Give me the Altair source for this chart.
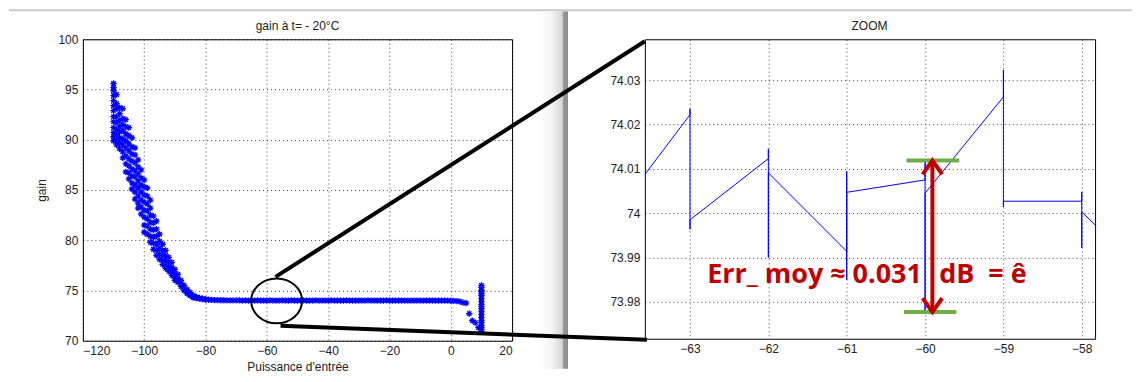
import altair as alt
import pandas as pd

# ---------------- left panel: gain vs input power (samples per power step)
left_power = [-110, -109, -108, -107, -106, -105, -104, -103, -102, -101, -100,
              -99, -98, -97, -96, -95, -94, -93, -92, -91, -90,
              -89, -88, -87, -86, -85, -84, -83, -82, -81, -80,
              -79, -78, -77, -76, -75, -74, -73, -72, -71, -70,
              -69, -68, -67, -66, -65, -64, -63, -62, -61, -60,
              -59, -58, -57, -56, -55, -54, -53, -52, -51, -50,
              -49, -48, -47, -46, -45, -44, -43, -42, -41, -40,
              -39, -38, -37, -36, -35, -34, -33, -32, -31, -30,
              -29, -28, -27, -26, -25, -24, -23, -22, -21, -20,
              -19, -18, -17, -16, -15, -14, -13, -12, -11, -10,
              -9, -8, -7, -6, -5, -4, -3, -2, -1, 0,
              1, 2, 3, 4, 5, 6, 7, 8, 9, 10]
left_gain = [
    [95.6, 95.2, 94.9, 94.4, 93.9, 93.4, 92.9, 92.3, 91.8, 91.2, 90.7, 90.3, 89.9],
    [94.5, 93.6, 93.1, 92.3, 91.7, 91.0, 90.5, 89.9, 89.5],
    [93.2, 92.6, 91.9, 91.3, 90.8, 90.2, 89.7, 89.1],
    [93.1, 92.1, 91.5, 90.9, 90.1, 89.5, 88.8, 88.2],
    [92.0, 91.3, 90.6, 89.9, 89.2, 88.4, 87.6, 86.8],
    [91.2, 90.4, 89.6, 88.9, 88.1, 87.4, 86.7, 86.1],
    [90.2, 89.3, 88.6, 87.9, 87.1, 86.4, 85.7, 85.1],
    [89.2, 88.5, 87.7, 86.9, 86.3, 85.5, 84.8, 84.1],
    [88.0, 87.3, 86.6, 85.9, 85.2, 84.4, 83.7, 83.2],
    [87.0, 86.2, 85.5, 84.8, 84.0, 83.3, 82.6],
    [86.0, 85.3, 84.5, 83.8, 83.0, 82.3, 81.5, 80.8],
    [85.2, 84.4, 83.6, 82.9, 82.1, 81.4, 80.6],
    [84.0, 83.2, 82.5, 81.8, 81.1, 80.4, 79.8],
    [82.4, 81.7, 81.0, 80.3, 79.7, 79.1],
    [81.9, 81.1, 80.4, 79.6, 79.0, 78.5],
    [80.6, 79.9, 79.2, 78.6, 78.1],
    [79.6, 79.0, 78.5, 78.0, 77.6],
    [79.0, 78.5, 78.0, 77.5, 77.2],
    [78.3, 77.8, 77.3, 76.9],
    [77.8, 77.3, 76.9, 76.5],
    [77.1, 76.7, 76.3, 76.0],
    [76.6, 76.2, 75.8],
    [76.0, 75.7, 75.4],
    [75.5, 75.2, 75.0],
    [75.1, 74.9, 74.7],
    [74.8, 74.6, 74.5],
    [74.5, 74.4, 74.3],
    [74.35, 74.3, 74.25],
    [74.25, 74.2],
    [74.18, 74.15],
    [74.12, 74.1],
    [74.08], [74.06], [74.05], [74.04], [74.03], [74.03], [74.02], [74.02], [74.01], [74.02],
    [74.01], [74.0], [74.01], [74.0], [74.01], [74.0], [74.01], [74.0], [74.0], [74.0],
    [74.02], [74.0], [73.99], [74.0], [74.01], [74.0], [74.0], [74.01], [74.0], [74.0],
    [74.0], [74.01], [74.0], [74.0], [74.0], [74.01], [74.0], [74.0], [74.0], [74.0],
    [74.01], [74.0], [74.0], [74.0], [74.0], [74.01], [74.0], [74.0], [74.0], [74.0],
    [74.0], [74.0], [74.01], [74.0], [74.0], [74.0], [74.0], [74.0], [74.01], [74.0],
    [74.0], [74.0], [74.0], [74.0], [74.0], [73.99], [74.0], [74.0], [74.0], [74.0],
    [74.0], [74.0], [74.0], [74.0], [74.0], [73.99], [74.0], [73.99], [73.99], [73.98],
    [73.97], [73.95], [73.9], [73.8], [73.75], [72.7], [72.0], [71.8], [71.3],
    [75.5, 75.3, 75.0, 74.9, 74.7, 74.5, 74.2, 73.9, 73.6, 73.4, 73.2, 72.9,
     72.6, 72.3, 72.0, 71.8, 71.5, 71.3, 71.1, 70.9],
]
left_x_ticks = [-120, -100, -80, -60, -40, -20, 0, 20]
left_y_ticks = [70, 75, 80, 85, 90, 95, 100]

# ---------------- right panel: zoom around -60 dBm (samples in acquisition order)
zoom_power = [-64, -63, -63, -63, -63, -62, -62, -62, -62, -61, -61, -61, -61,
              -60, -60, -60, -60, -59, -59, -59, -59, -58, -58, -58, -58, -57]
zoom_gain = [73.9988, 74.0222, 74.0235, 73.9964, 73.9985, 74.0123, 74.0145, 73.9900,
             74.0091, 73.9914, 74.0094, 73.9850, 74.0047, 74.0075, 74.0121, 73.9779,
             74.0045, 74.0262, 74.0323, 74.0014, 74.0027, 74.0027, 74.0048, 73.9922,
             74.0003, 73.9830]
zoom_x_ticks = [-63, -62, -61, -60, -59, -58]
zoom_y_ticks = [73.98, 73.99, 74.0, 74.01, 74.02, 74.03]

left_title = "gain à t= - 20°C"
right_title = "ZOOM"

# annotations
zoom_circle_center = [-56.8, 73.97]
err_top = 74.0119
err_bottom = 73.9777
err_x = -59.906
green_top_x = [-60.237, -59.563]
green_bottom_x = [-60.27, -59.60]
err_text_left = "Err_ moy ≈ 0.031"
err_text_right = "dB\u00a0\u00a0= ê"
err_text_y = 73.9843
err_text_left_x = -60.04
err_text_right_x = -59.82

FONT = "Liberation Sans"
ASTERISK = "M-1,0L1,0M0,-1L0,1M-0.7,-0.7L0.7,0.7M-0.7,0.7L0.7,-0.7"
ELLIPSE = "M-1,0A1,0.88,0,1,0,1,0A1,0.88,0,1,0,-1,0"
UP_HEAD = "M-0.7,1L0,0L0.7,1"
DOWN_HEAD = "M-0.7,-1L0,0L0.7,-1"

left_df = pd.DataFrame([{"p": p, "g": g} for p, gs in zip(left_power, left_gain) for g in gs])
zoom_df = pd.DataFrame({"p": zoom_power, "g": zoom_gain, "i": list(range(len(zoom_power)))})
one = alt.Data(values=[{"k": 0}])

axis_common = dict(grid=True, gridColor="#000000", gridDash=[1, 3], gridOpacity=0.75,
                   domain=False, ticks=False, labelFont=FONT, labelFontSize=12,
                   labelColor="#222222", titleFont=FONT, titleFontSize=12,
                   titleFontWeight="normal", titleColor="#222222")

lx = alt.X("p:Q", scale=alt.Scale(domain=[-120, 20], nice=False, zero=False),
           axis=alt.Axis(values=left_x_ticks, title="Puissance d'entrée", labelPadding=5,
                         titlePadding=5, **axis_common))
ly = alt.Y("g:Q", scale=alt.Scale(domain=[70, 100], nice=False, zero=False),
           axis=alt.Axis(values=left_y_ticks, title="gain", labelPadding=5,
                         titlePadding=9, **axis_common))

top_strip_l = alt.Chart(one).mark_rect(fill="#cacaca").encode(
    x=alt.value(-74), x2=alt.value(482), y=alt.value(-30), y2=alt.value(-28))
gap_shadow = alt.Chart(one).mark_rect(
    fill=alt.Gradient(gradient="linear", x1=0, x2=1, y1=0, y2=0,
                      stops=[alt.GradientStop(color="#ffffff", offset=0),
                             alt.GradientStop(color="#f4f4f4", offset=0.4),
                             alt.GradientStop(color="#e6e6e6", offset=0.6),
                             alt.GradientStop(color="#d2d2d2", offset=0.8),
                             alt.GradientStop(color="#9a9a9a", offset=0.83),
                             alt.GradientStop(color="#8c8c8c", offset=1)])
).encode(x=alt.value(458), x2=alt.value(486), y=alt.value(-28), y2=alt.value(330))
title_l = alt.Chart(one).mark_text(font=FONT, fontSize=12, color="#222222", baseline="middle",
                                   align="center").encode(
    x=alt.value(215), y=alt.value(-13), text=alt.value(left_title))

pts = alt.Chart(left_df).mark_point(shape=ASTERISK, size=40, stroke="#0000ff",
                                    strokeWidth=1.3, filled=False, opacity=1).encode(x=lx, y=ly)
circ = alt.Chart(pd.DataFrame({"p": [zoom_circle_center[0]], "g": [zoom_circle_center[1]]})).mark_point(
    shape=ELLIPSE, size=2601, stroke="black", strokeWidth=2, filled=False, opacity=1
).encode(x=lx, y=ly)

left = alt.layer(top_strip_l, gap_shadow, title_l, pts, circ).properties(width=430, height=302)

# ---------------- right panel
rx = alt.X("p:Q", scale=alt.Scale(domain=[-63.576, -57.83], nice=False, zero=False),
           axis=alt.Axis(values=zoom_x_ticks, title=None, labelPadding=5, **axis_common))
ry = alt.Y("g:Q", scale=alt.Scale(domain=[73.9717, 74.0392], nice=False, zero=False),
           axis=alt.Axis(values=zoom_y_ticks, title=None, labelPadding=5,
                         labelExpr="round(datum.value*100)/100 + ''", **axis_common))

top_strip_r = alt.Chart(one).mark_rect(fill="#cacaca").encode(
    x=alt.value(-81), x2=alt.value(488), y=alt.value(-30), y2=alt.value(-28))
title_r = alt.Chart(one).mark_text(font=FONT, fontSize=12, color="#222222", baseline="middle",
                                   align="center").encode(
    x=alt.value(225), y=alt.value(-13), text=alt.value(right_title))
zline = alt.Chart(zoom_df).mark_line(color="#0000ff", strokeWidth=1, clip=True).encode(
    x=rx, y=ry, order="i:Q")
green = alt.Chart(pd.DataFrame({"p": [green_top_x[0], green_bottom_x[0]],
                                "p2": [green_top_x[1], green_bottom_x[1]],
                                "g": [err_top, err_bottom]})).mark_rule(
    color="#70ad47", strokeWidth=4).encode(x=rx, x2="p2:Q", y=ry)
shaft = alt.Chart(pd.DataFrame({"p": [err_x], "g": [err_bottom], "g2": [err_top]})).mark_rule(
    color="#c00000", strokeWidth=4).encode(x=rx, y=ry, y2="g2:Q")
head_up = alt.Chart(pd.DataFrame({"p": [err_x], "g": [err_top]})).mark_point(
    shape=UP_HEAD, size=784, stroke="#c00000", strokeWidth=4, filled=False, opacity=1
).encode(x=rx, y=ry)
head_down = alt.Chart(pd.DataFrame({"p": [err_x], "g": [err_bottom]})).mark_point(
    shape=DOWN_HEAD, size=784, stroke="#c00000", strokeWidth=4, filled=False, opacity=1
).encode(x=rx, y=ry)
txt_l = alt.Chart(pd.DataFrame({"p": [err_text_left_x], "g": [err_text_y], "t": [err_text_left]})).mark_text(
    align="right", baseline="alphabetic", font="Open Sans", fontWeight="bold", fontSize=27,
    color="#c00000").encode(x=rx, y=ry, text="t:N")
txt_r = alt.Chart(pd.DataFrame({"p": [err_text_right_x], "g": [err_text_y], "t": [err_text_right]})).mark_text(
    align="left", baseline="alphabetic", font="Open Sans", fontWeight="bold", fontSize=27,
    color="#c00000").encode(x=rx, y=ry, text="t:N")
link_top = alt.Chart(one).mark_rule(color="black", strokeWidth=4).encode(
    x=alt.value(-370), y=alt.value(238), x2=alt.value(0), y2=alt.value(2))
link_bottom = alt.Chart(one).mark_rule(color="black", strokeWidth=4).encode(
    x=alt.value(-365), y=alt.value(287), x2=alt.value(2), y2=alt.value(301))

right = alt.layer(top_strip_r, title_r, zline, green, shaft, head_up, head_down, txt_l, txt_r,
                  link_top, link_bottom).properties(width=451, height=300)

chart = alt.hconcat(left, right, spacing=133, bounds="flush").properties(
    padding={"left": 0, "top": 0, "right": 0, "bottom": 0}, background="white"
).configure_view(stroke="#000000", strokeWidth=1)

chart.save("out.html", embed_options={"renderer": "svg", "actions": False})
